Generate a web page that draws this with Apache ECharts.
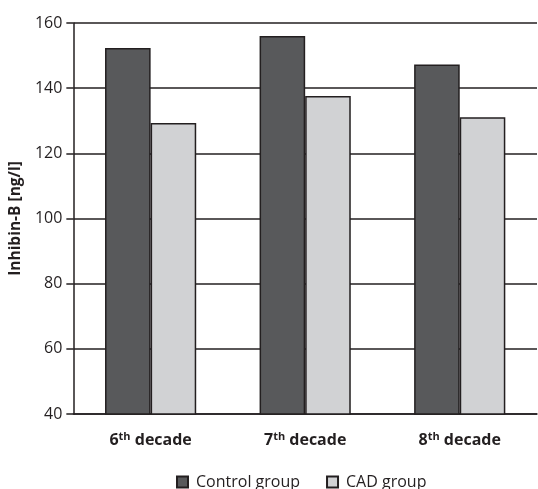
<!DOCTYPE html>
<html>
<head>
<meta charset="utf-8">
<script src="https://cdn.jsdelivr.net/npm/echarts@6/dist/echarts.min.js"></script>
<style>html,body{margin:0;padding:0;background:#fff;}#c{width:538px;height:489px;}</style>
</head>
<body>
<div id="c"></div>
<script>
var categories = ['6', '7', '8'];
var controlValues = [152.3, 156.0, 147.3];
var cadValues = [129.3, 137.6, 131.1];
var seriesNames = ['Control group', 'CAD group'];
var yTicks = { min: 40, max: 160, interval: 20 };
var yAxisName = 'Inhibin-B [ng/l]';

var chart = echarts.init(document.getElementById('c'));
var font = '"Open Sans", "Noto Sans", sans-serif';
chart.setOption({
  animation: false,
  textStyle: { fontFamily: font },
  grid: { left: 70, right: 1, top: 23, bottom: 75, containLabel: false },
  legend: {
    data: seriesNames,
    top: 469,
    left: 171,
    itemWidth: 11,
    itemHeight: 11,
    itemGap: 26,
    icon: 'rect',
    textStyle: { fontSize: 16, color: '#231f20', fontFamily: font, padding: [3, 0, 0, 3] }
  },
  xAxis: {
    type: 'category',
    data: categories,
    axisLine: { show: true, lineStyle: { color: '#231f20', width: 1.5 } },
    axisTick: { show: false },
    axisLabel: {
      interval: 0,
      margin: 17,
      formatter: function (v) { return '{b|' + v + '}{s|th}{b| decade}'; },
      rich: {
        b: { fontSize: 16, fontWeight: 'bold', color: '#231f20', fontFamily: font },
        s: { fontSize: 11, fontWeight: 'bold', color: '#231f20', fontFamily: font, verticalAlign: 'top', padding: [0, 0, 8, 0] }
      }
    }
  },
  yAxis: {
    type: 'value',
    min: yTicks.min,
    max: yTicks.max,
    interval: yTicks.interval,
    name: yAxisName,
    nameLocation: 'middle',
    nameGap: 46,
    nameTextStyle: { fontSize: 15.5, fontWeight: 'bold', color: '#231f20', fontFamily: font },
    axisLine: { show: true, lineStyle: { color: '#231f20', width: 1.5 } },
    axisTick: { show: true, length: 7, lineStyle: { color: '#231f20', width: 1.5 } },
    axisLabel: { fontSize: 16, color: '#231f20', margin: 11, fontFamily: font },
    splitLine: { show: true, lineStyle: { color: '#231f20', width: 1.5 } }
  },
  series: [
    {
      name: seriesNames[0],
      type: 'bar',
      data: controlValues,
      barGap: '0%',
      barCategoryGap: '41%',
      itemStyle: { color: '#58595b', borderColor: '#231f20', borderWidth: 1.5 }
    },
    {
      name: seriesNames[1],
      type: 'bar',
      data: cadValues,
      itemStyle: { color: '#d1d2d4', borderColor: '#231f20', borderWidth: 1.5 }
    }
  ]
});
</script>
</body>
</html>
